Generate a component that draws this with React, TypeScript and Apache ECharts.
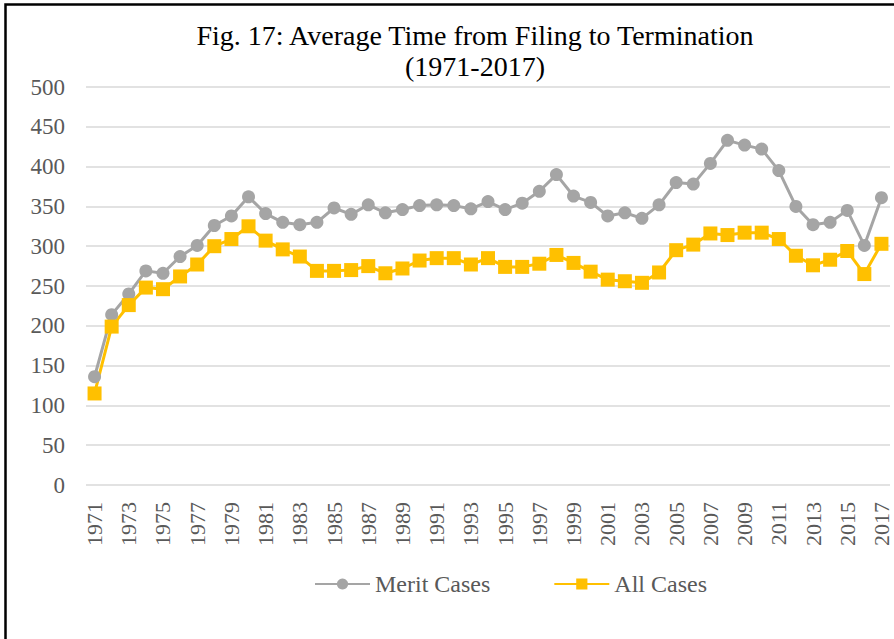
import React, { useEffect, useRef } from "react";
import * as echarts from "echarts";

const years: string[] = [];
for (let y = 1971; y <= 2017; y++) years.push(String(y));

const meritCases = [
  136, 214, 240, 269, 266, 287, 301, 326, 338, 362,
  341, 330, 327, 330, 348, 340, 352, 342, 346, 351,
  352, 351, 347, 356, 346, 354, 369, 390, 363, 355,
  338, 342, 335, 352, 380, 378, 404, 433, 427, 422,
  395, 350, 327, 330, 345, 301, 361,
];

const allCases = [
  115, 199, 226, 248, 246, 262, 277, 300, 309, 325,
  307, 296, 287, 269, 269, 270, 275, 266, 272, 282,
  285, 285, 277, 285, 274, 274, 278, 289, 279, 268,
  258, 256, 254, 267, 295, 302, 316, 314, 317, 317,
  309, 288, 276, 283, 294, 265, 303,
];

const titleLines = ["Fig. 17: Average Time from Filing to Termination", "(1971-2017)"];
const seriesNames = ["Merit Cases", "All Cases"];

const FONT = "Liberation Serif";

export default function App() {
  const ref = useRef<HTMLDivElement>(null);
  useEffect(() => {
    if (!ref.current) return;
    const chart = echarts.init(ref.current, null, { renderer: "svg" });
    chart.setOption({
      animation: false,
      backgroundColor: "#ffffff",
      title: {
        text: titleLines.join("\n"),
        left: 470,
        top: 15,
        textAlign: "center",
        textStyle: {
          fontFamily: FONT,
          fontSize: 28,
          fontWeight: "normal",
          color: "#000000",
          lineHeight: 31,
        },
      },
      graphic: [
        {
          type: "rect",
          shape: { x: 5.5, y: 4.5, width: 1000, height: 1000 },
          style: { fill: "none", stroke: "#000000", lineWidth: 2.5 },
          silent: true,
        },
      ],
      legend: {
        left: 309,
        top: 567,
        itemWidth: 55,
        itemHeight: 14,
        itemGap: 63,
        textStyle: {
          fontFamily: FONT,
          fontWeight: "normal",
          fontSize: 24,
          color: "#595959",
        },
        data: seriesNames,
      },
      grid: { left: 86, right: 4, top: 87, bottom: 154, containLabel: false },
      xAxis: {
        type: "category",
        data: years,
        boundaryGap: true,
        axisLine: { show: false },
        axisTick: { show: false },
        axisLabel: {
          show: true,
          rotate: 90,
          interval: 1,
          margin: 17,
          fontFamily: FONT,
          fontWeight: "normal",
          fontSize: 22,
          color: "#595959",
        },
      },
      yAxis: {
        type: "value",
        min: 0,
        max: 500,
        interval: 50,
        axisLine: { show: false },
        axisTick: { show: false },
        splitLine: { lineStyle: { color: "#d9d9d9", width: 1.5 } },
        axisLabel: {
          show: true,
          margin: 21,
          fontFamily: FONT,
          fontWeight: "normal",
          fontSize: 23,
          color: "#595959",
        },
      },
      series: [
        {
          name: seriesNames[0],
          type: "line",
          data: meritCases,
          symbol: "circle",
          symbolSize: 13,
          showAllSymbol: true,
          lineStyle: { color: "#a5a5a5", width: 3 },
          itemStyle: { color: "#a5a5a5" },
        },
        {
          name: seriesNames[1],
          type: "line",
          data: allCases,
          symbol: "rect",
          symbolSize: 14,
          showAllSymbol: true,
          lineStyle: { color: "#ffc000", width: 3 },
          itemStyle: { color: "#ffc000" },
        },
      ],
    });
    return () => chart.dispose();
  }, []);
  return (
    <div
      ref={ref}
      style={{ position: "fixed", left: 0, top: 0, width: 894, height: 639 }}
    />
  );
}
